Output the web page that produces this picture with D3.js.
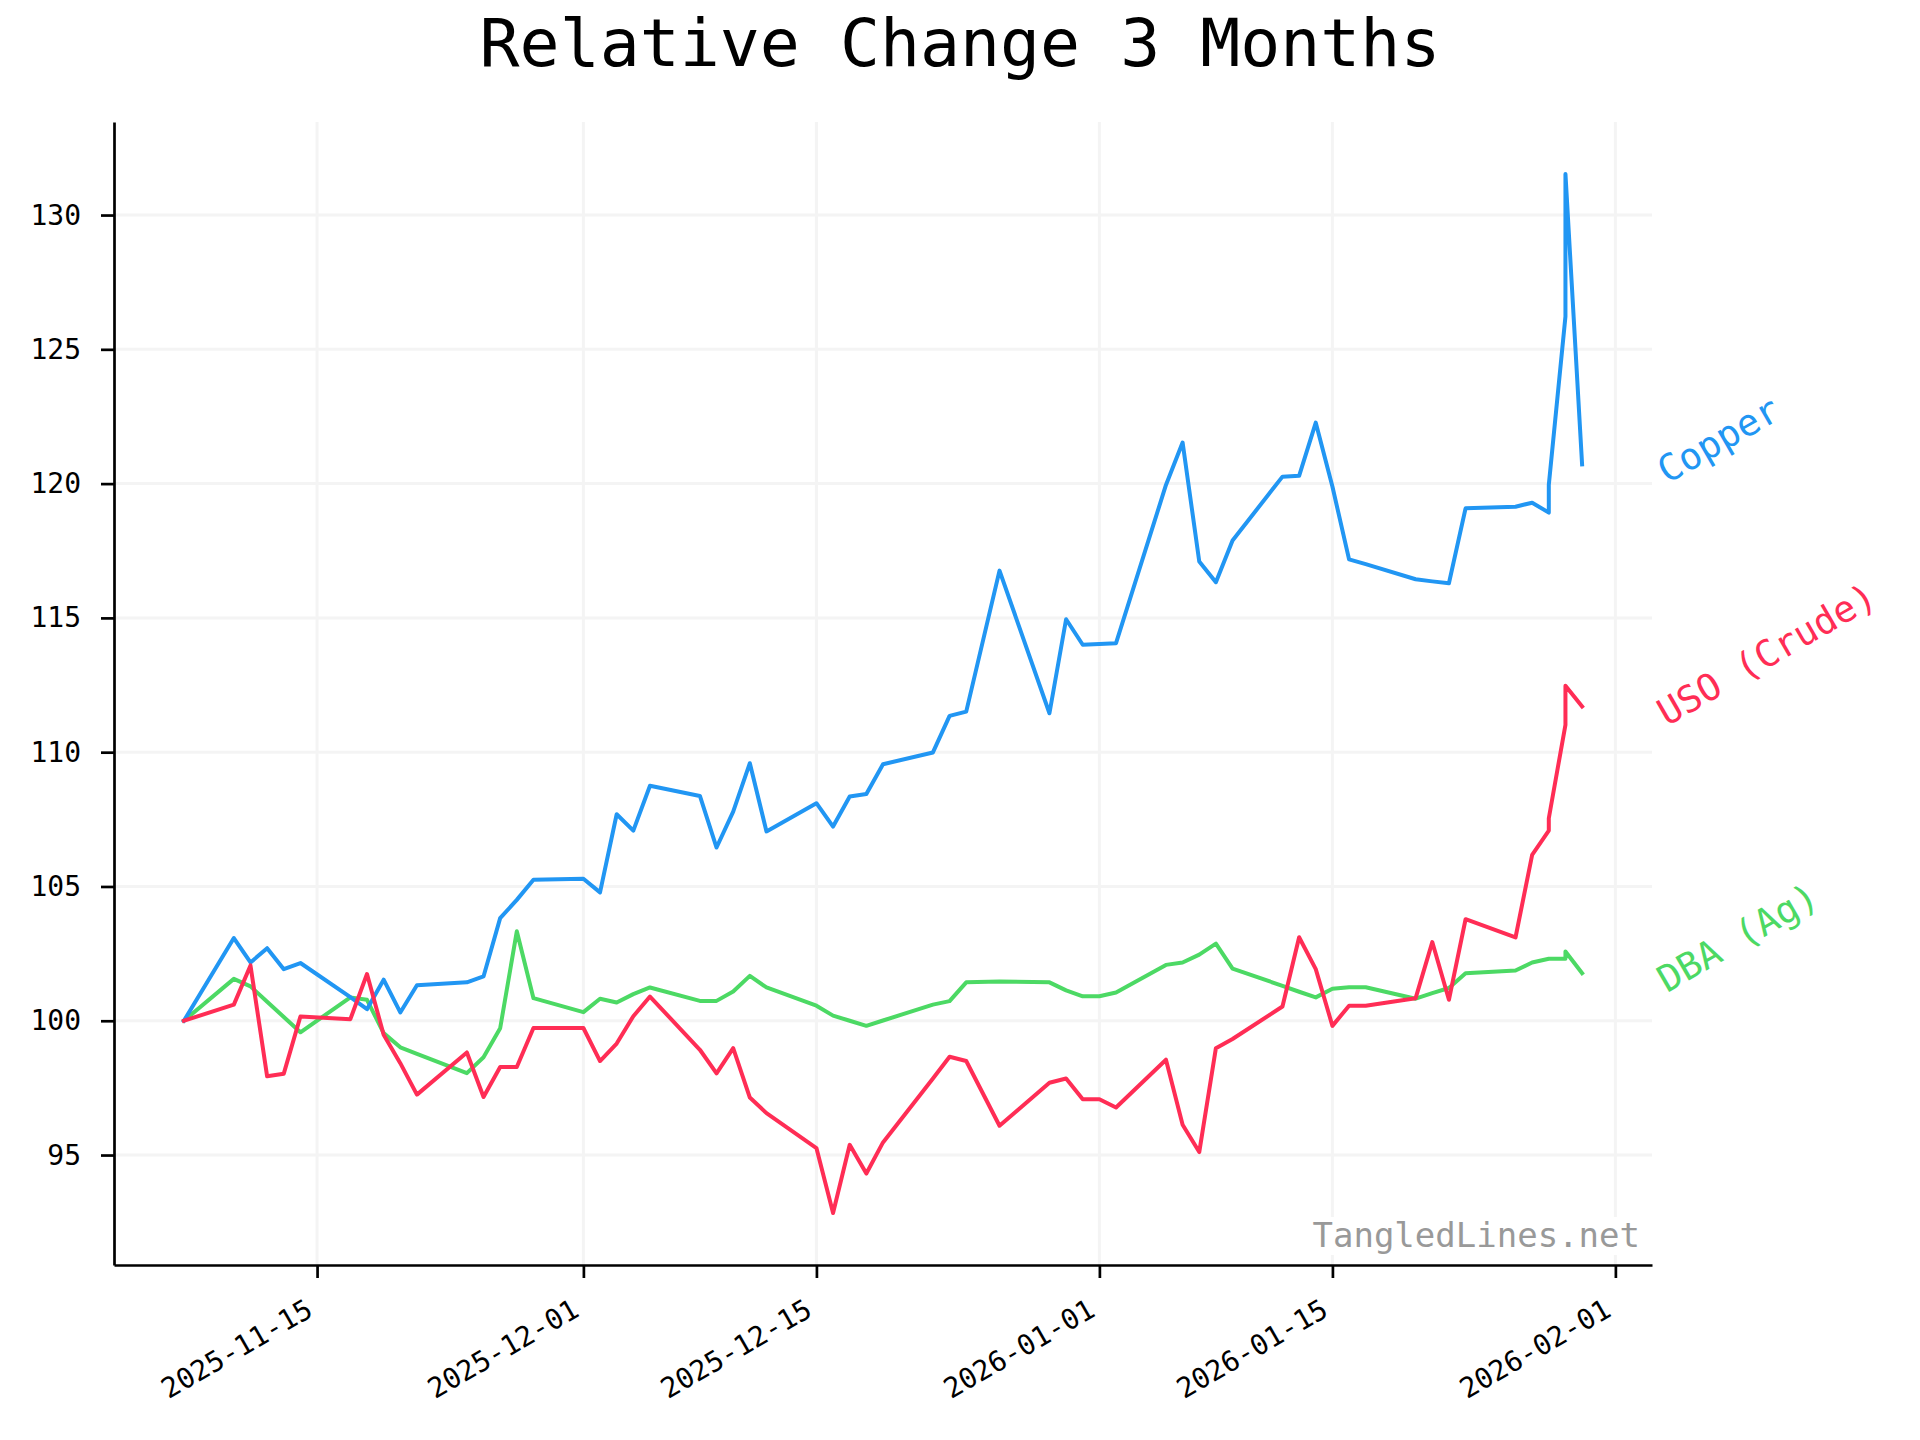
<!DOCTYPE html>
<html>
<head>
<meta charset="utf-8">
<script src="https://cdn.jsdelivr.net/npm/d3@7"></script>
<style>
  body { margin: 0; background: #fff; }
  svg { display: block; font-family: 'DejaVu Sans Mono', monospace; }
</style>
</head>
<body>
<div class="linechart"></div>
<script>
// trading days (a few dates appear twice: two prints on the same day)
const dates = [
  '2025-11-07', '2025-11-10', '2025-11-11', '2025-11-12', '2025-11-13', '2025-11-14',
  '2025-11-17', '2025-11-18', '2025-11-19', '2025-11-20', '2025-11-21',
  '2025-11-24', '2025-11-25', '2025-11-26', '2025-11-27', '2025-11-28',
  '2025-12-01', '2025-12-02', '2025-12-03', '2025-12-04', '2025-12-05',
  '2025-12-08', '2025-12-09', '2025-12-10', '2025-12-11', '2025-12-12',
  '2025-12-15', '2025-12-16', '2025-12-17', '2025-12-18', '2025-12-19',
  '2025-12-22', '2025-12-23', '2025-12-24', '2025-12-26',
  '2025-12-29', '2025-12-30', '2025-12-31', '2026-01-01', '2026-01-02',
  '2026-01-05', '2026-01-06', '2026-01-07', '2026-01-08', '2026-01-09',
  '2026-01-12', '2026-01-13', '2026-01-14', '2026-01-15', '2026-01-16', '2026-01-17',
  '2026-01-20', '2026-01-21', '2026-01-22', '2026-01-23',
  '2026-01-26', '2026-01-27', '2026-01-28', '2026-01-28', '2026-01-29', '2026-01-29', '2026-01-30'
];

const copper = [
  100.00, 103.08, 102.17, 102.70, 101.92, 102.15,
  100.88, 100.43, 101.53, 100.31, 101.32,
  101.43, 101.65, 103.82, 104.50, 105.25,
  105.29, 104.78, 107.69, 107.08, 108.75,
  108.37, 106.45, 107.79, 109.59, 107.05,
  108.10, 107.23, 108.35, 108.44, 109.55,
  109.99, 111.35, 111.51, 116.76,
  111.45, 114.95, 114.00, 114.03, 114.06,
  119.95, 121.53, 117.10, 116.33, 117.88,
  120.26, 120.29, 122.27, 119.89, 117.18, 117.00,
  116.44, 116.36, 116.29, 119.08,
  119.14, 119.29, 118.92, 119.95, 126.22, 131.53, 120.72
];

const uso = [
  100.00, 100.60, 102.06, 97.93, 98.03, 100.16,
  100.06, 101.74, 99.48, 98.42, 97.25,
  98.82, 97.16, 98.28, 98.28, 99.73,
  99.73, 98.50, 99.15, 100.17, 100.90,
  98.92, 98.04, 98.98, 97.14, 96.56,
  95.26, 92.84, 95.38, 94.31, 95.47,
  97.85, 98.66, 98.50, 96.09,
  97.69, 97.85, 97.08, 97.08, 96.77,
  98.55, 96.13, 95.11, 98.98, 99.32,
  100.53, 103.11, 101.92, 99.81, 100.56, 100.56,
  100.84, 102.93, 100.78, 103.78,
  103.10, 106.18, 107.08, 107.54, 111.02, 112.47, 111.70
];

const dba = [
  100.00, 101.56, 101.28, 100.71, 100.14, 99.57,
  100.87, 100.78, 99.54, 99.01, 98.77,
  98.05, 98.64, 99.72, 103.33, 100.84,
  100.32, 100.82, 100.68, 100.99, 101.24,
  100.74, 100.74, 101.09, 101.67, 101.24,
  100.56, 100.19, 100.00, 99.81, 100.01,
  100.60, 100.73, 101.43, 101.46,
  101.43, 101.13, 100.91, 100.91, 101.05,
  102.08, 102.17, 102.46, 102.87, 101.94,
  101.30, 101.08, 100.87, 101.19, 101.25, 101.25,
  100.82, 101.03, 101.22, 101.77,
  101.87, 102.17, 102.31, 102.31, 102.31, 102.58, 101.77
];

const seriesNames = ['Copper', 'USO (Crude)', 'DBA (Ag)'];
const seriesColors = ['#2196f3', '#ff2d55', '#4cd964'];
const yTicks = [95, 100, 105, 110, 115, 120, 125, 130];
const xTicks = ['2025-11-15', '2025-12-01', '2025-12-15', '2026-01-01', '2026-01-15', '2026-02-01'];

let margin, w, h, svg, x, y;
const parseDate = d3.timeParse('%Y-%m-%d');

const chart = {
  createCanvas() {
    margin = {top: 122, right: 268, bottom: 175, left: 114};
    w = 1920 - margin.left - margin.right;
    h = 1440 - margin.top - margin.bottom;

    let root = d3.select('.linechart').append('svg')
      .attr('width', 1920)
      .attr('height', 1440);

    root.append('text')
      .attr('x', 960)
      .attr('y', 66)
      .attr('text-anchor', 'middle')
      .attr('font-size', 66.5)
      .attr('fill', '#000')
      .text('Relative Change 3 Months');

    svg = root.append('g')
      .attr('transform', `translate(${margin.left},${margin.top})`);
  },

  draw() {
    let series = [copper, uso, dba].map((vals, i) => ({
      name: seriesNames[i],
      color: seriesColors[i],
      points: vals.map((v, j) => ({date: parseDate(dates[j]), value: v}))
    }));

    // matplotlib-like 5% margins on both axes
    let ext = d3.extent(dates, parseDate);
    let padT = (ext[1] - ext[0]) * 0.05;
    x = d3.scaleTime()
      .domain([new Date(+ext[0] - padT), new Date(+ext[1] + padT)])
      .range([0, w]);

    let all = copper.concat(uso, dba);
    let lo = d3.min(all), hi = d3.max(all), padV = (hi - lo) * 0.05;
    y = d3.scaleLinear()
      .domain([lo - padV, hi + padV])
      .range([h, 0]);

    let tickDates = xTicks.map(parseDate);

    // grid
    svg.append('g').selectAll('line.gx')
      .data(tickDates)
      .enter().append('line')
        .attr('x1', d => x(d)).attr('x2', d => x(d))
        .attr('y1', 0).attr('y2', h)
        .attr('stroke', '#f4f4f4')
        .attr('stroke-width', 3);

    svg.append('g').selectAll('line.gy')
      .data(yTicks)
      .enter().append('line')
        .attr('x1', 0).attr('x2', w)
        .attr('y1', d => y(d)).attr('y2', d => y(d))
        .attr('stroke', '#f4f4f4')
        .attr('stroke-width', 3);

    // watermark with white box
    let mark = svg.append('g');
    let markText = mark.append('text')
      .attr('x', w - 12)
      .attr('y', h - 18)
      .attr('text-anchor', 'end')
      .attr('font-size', 34)
      .attr('fill', '#999')
      .text('TangledLines.net');
    let bb = markText.node().getBBox();
    mark.insert('rect', 'text')
      .attr('x', bb.x - 4).attr('y', bb.y + 2)
      .attr('width', bb.width + 8).attr('height', bb.height - 2)
      .attr('fill', '#fff');

    let line = d3.line()
      .x(d => x(d.date))
      .y(d => y(d.value));

    // DBA under, then copper, crude on top
    [series[2], series[0], series[1]].forEach(s => {
      svg.append('path')
        .datum(s.points)
        .attr('fill', 'none')
        .attr('stroke', s.color)
        .attr('stroke-width', 4)
        .attr('stroke-linejoin', 'round')
        .attr('stroke-linecap', 'square')
        .attr('d', line);
    });

    // end labels
    series.forEach(s => {
      let last = s.points[s.points.length - 1];
      let lx = w + 15, ly = y(last.value) + 20;
      svg.append('text')
        .attr('x', lx)
        .attr('y', ly)
        .attr('transform', `rotate(-30,${lx},${ly})`)
        .attr('font-size', 37)
        .attr('fill', s.color)
        .text(s.name);
    });

    // axes
    let yAxis = svg.append('g')
      .attr('class', 'y axis')
      .call(d3.axisLeft(y).tickValues(yTicks).tickSize(13).tickSizeOuter(0).tickPadding(20));

    let xAxis = svg.append('g')
      .attr('class', 'x axis')
      .attr('transform', `translate(0, ${h})`)
      .call(d3.axisBottom(x).tickValues(tickDates).tickFormat(d3.timeFormat('%Y-%m-%d'))
        .tickSize(13).tickSizeOuter(0));

    [yAxis, xAxis].forEach(a => {
      a.attr('font-family', null).attr('font-size', null);
      a.select('.domain').attr('stroke', '#000').attr('stroke-width', 2.7);
      a.selectAll('.tick line').attr('stroke', '#000').attr('stroke-width', 2.7);
      a.selectAll('.tick text').attr('fill', '#000').attr('font-size', 28);
    });

    xAxis.selectAll('.tick text')
      .attr('x', null).attr('y', null).attr('dy', null)
      .attr('text-anchor', 'end')
      .attr('transform', 'translate(-3,50) rotate(-30)');
  }
};

chart.createCanvas();
chart.draw();
</script>
</body>
</html>
